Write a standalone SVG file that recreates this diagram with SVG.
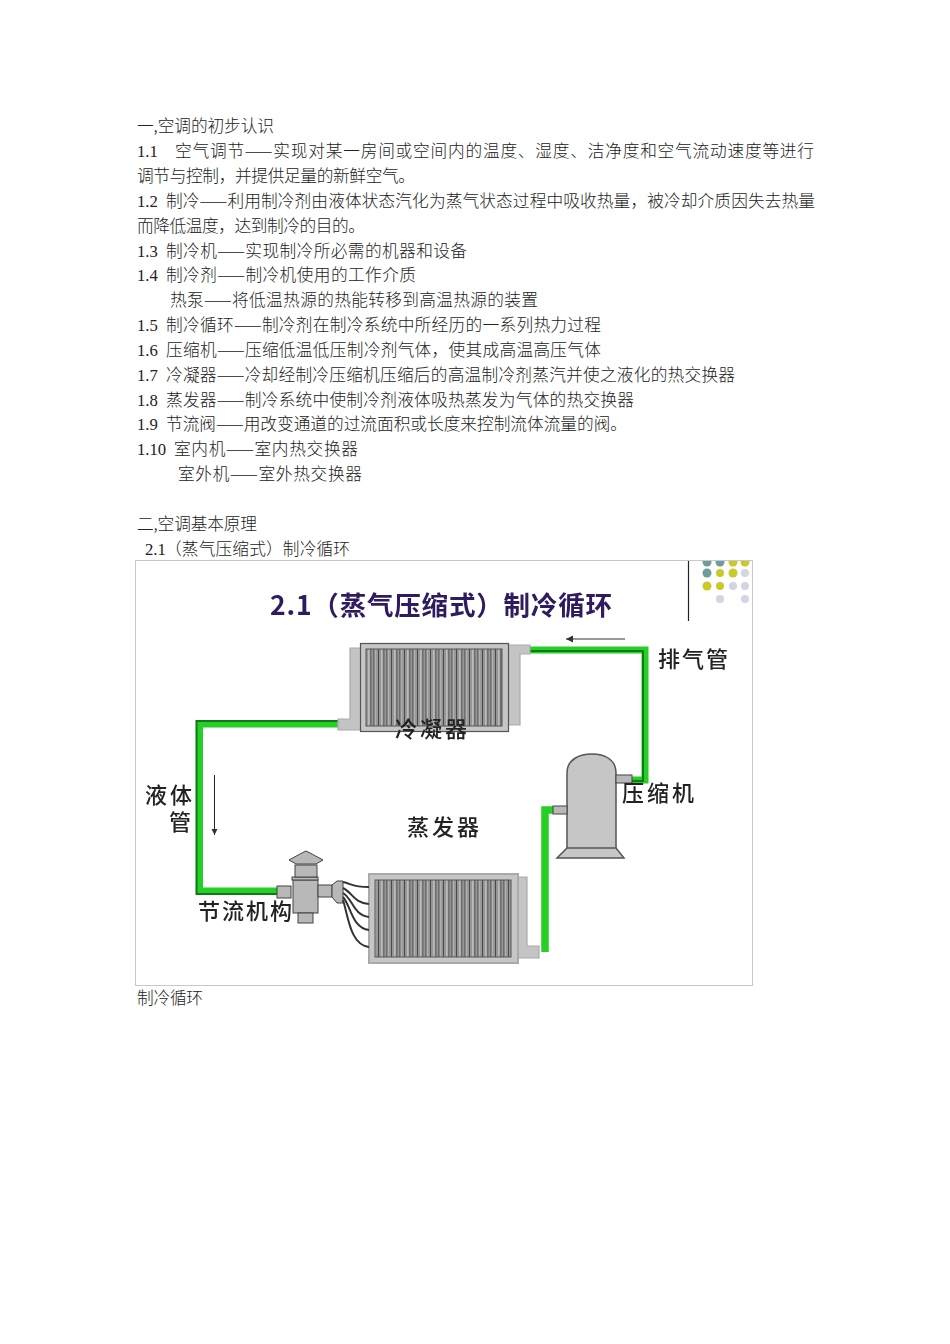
<svg xmlns="http://www.w3.org/2000/svg" width="950" height="1344" viewBox="0 0 950 1344">
<style>
.t{font-family:"Noto Sans CJK SC","Liberation Serif",serif;font-size:16.7px;fill:#222;font-weight:300}
.n{font-family:"Liberation Serif","Noto Sans CJK SC",serif}
.title{font-family:"Noto Sans CJK SC","Liberation Sans",sans-serif;font-size:26.500px;font-weight:700;fill:#2d1a5e}
.lab{font-family:"Noto Sans CJK SC","Liberation Serif",serif;font-size:22px;font-weight:500;fill:#222}
.box{fill:#c6c6c6;stroke:#555;stroke-width:1.2}
.soft{stroke:#aaa;fill:#c4c4c4}
.pipe{fill:none;stroke:#25cf25;stroke-width:7}
.edge{fill:none;stroke:#0b7a12;stroke-width:2}
.part{fill:#b8b8b8;stroke:#444;stroke-width:1}
.wire{fill:none;stroke:#333;stroke-width:2}
.fig{filter:url(#blur)}
</style>
<defs>
<filter id="blur" x="-5%" y="-5%" width="110%" height="110%"><feGaussianBlur stdDeviation="0.45"/></filter>
<clipPath id="dotclip"><rect x="690" y="561" width="62" height="60"/></clipPath>
<pattern id="fins" width="13" height="10" patternUnits="userSpaceOnUse">
<rect width="13" height="10" fill="#969696"/>
<rect x="1" width="1" height="10" fill="#4a4a4a"/>
<rect x="4" width="1.6" height="10" fill="#bbb"/>
<rect x="6.500" width="0.8" height="10" fill="#4a4a4a"/>
<rect x="9" width="1.400" height="10" fill="#6e6e6e"/>
<rect x="11" width="1.200" height="10" fill="#b0b0b0"/>
</pattern>
<marker id="arr" markerWidth="8" markerHeight="8" refX="6" refY="3" orient="auto"><path d="M0,0L6,3L0,6z" fill="#333"/></marker>
</defs>
<rect width="950" height="1344" fill="#fff"/>
<g id="text-body" class="t">
<text x="137" y="132" textLength="137">一,空调的初步认识</text>
<text class="n" x="137" y="157">1.1</text><text x="175" y="157" textLength="639">空气调节——实现对某一房间或空间内的温度、湿度、洁净度和空气流动速度等进行</text>
<text x="137" y="182" textLength="278">调节与控制，并提供足量的新鲜空气。</text>
<text class="n" x="137" y="207">1.2</text><text x="166" y="207" textLength="649">制冷——利用制冷剂由液体状态汽化为蒸气状态过程中吸收热量，被冷却介质因失去热量</text>
<text x="137" y="232" textLength="228">而降低温度，达到制冷的目的。</text>
<text class="n" x="137" y="257">1.3</text><text x="166" y="257" textLength="301">制冷机——实现制冷所必需的机器和设备</text>
<text class="n" x="137" y="281">1.4</text><text x="166" y="281" textLength="250">制冷剂——制冷机使用的工作介质</text>
<text x="170" y="306" textLength="368">热泵——将低温热源的热能转移到高温热源的装置</text>
<text class="n" x="137" y="331">1.5</text><text x="166" y="331" textLength="435">制冷循环——制冷剂在制冷系统中所经历的一系列热力过程</text>
<text class="n" x="137" y="356">1.6</text><text x="166" y="356" textLength="435">压缩机——压缩低温低压制冷剂气体，使其成高温高压气体</text>
<text class="n" x="137" y="381">1.7</text><text x="166" y="381" textLength="569">冷凝器——冷却经制冷压缩机压缩后的高温制冷剂蒸汽并使之液化的热交换器</text>
<text class="n" x="137" y="406">1.8</text><text x="166" y="406" textLength="468">蒸发器——制冷系统中使制冷剂液体吸热蒸发为气体的热交换器</text>
<text class="n" x="137" y="430">1.9</text><text x="166" y="430" textLength="461">节流阀——用改变通道的过流面积或长度来控制流体流量的阀。</text>
<text class="n" x="137" y="455">1.10</text><text x="174" y="455" textLength="184">室内机——室内热交换器</text>
<text x="178" y="480" textLength="184">室外机——室外热交换器</text>
<text x="137" y="530" textLength="120">二,空调基本原理</text>
<text class="n" x="145" y="555">2.1</text><text x="165" y="555" textLength="185">（蒸气压缩式）制冷循环</text>
<text x="137" y="1004" textLength="66">制冷循环</text>
</g>
<g id="figure-frame">
<rect x="135.500" y="560.500" width="617" height="425" fill="#fff" stroke="#c8c8c8"/>
<line x1="688.500" y1="561" x2="688.500" y2="621" stroke="#222" stroke-width="1.2"/>
<g clip-path="url(#dotclip)">
<g fill="#6f9c9c"><circle cx="707" cy="562" r="4.500"/><circle cx="720" cy="562" r="4.500"/><circle cx="707" cy="573" r="4.500"/></g>
<g fill="#c9c92a"><circle cx="733" cy="562" r="4.500"/><circle cx="745" cy="562" r="4.500"/><circle cx="720" cy="573" r="4"/><circle cx="733" cy="573" r="4.500"/><circle cx="707" cy="586" r="4.500"/><circle cx="720" cy="586" r="4"/></g>
<g fill="#d5d5e2"><circle cx="745" cy="573" r="4"/><circle cx="733" cy="586" r="4"/><circle cx="745" cy="586" r="4"/><circle cx="720" cy="599" r="4"/><circle cx="745" cy="599" r="4"/></g>
</g>
<text class="title fig" x="270" y="615" textLength="342">2.1（蒸气压缩式）制冷循环</text>
</g>
<g id="connectors" class="fig">
<path class="pipe" d="M338,724H199.500V891H278"/>
<path class="edge" d="M338,721H196.500V894H278"/>
<path class="pipe" d="M530,650H645V780H632"/>
<path class="edge" d="M530,651H643V781H632"/>
<path class="pipe" style="stroke-width:7.500" d="M545,952V810H553"/>
<line x1="625" y1="639" x2="566" y2="639" stroke="#333" stroke-width="1.2" marker-end="url(#arr)"/>
<line x1="214.500" y1="775" x2="214.500" y2="835" stroke="#222" stroke-width="1" marker-end="url(#arr)"/>
</g>
<g id="condenser" class="fig">
<path class="box soft" d="M350,648H362V730H338V719H350z"/>
<path class="box soft" d="M508,645H530V654H520V725H508z"/>
<rect class="box" x="360.500" y="643.500" width="148" height="88"/>
<rect x="366" y="649" width="136" height="77" fill="url(#fins)" stroke="#555"/>
<text class="lab" x="395" y="737" textLength="72">冷凝器</text>
</g>
<g id="evaporator" class="fig">
<path class="box soft" d="M517,877H527V946H539V958H517z"/>
<rect class="box" x="369" y="874" width="149" height="89" style="stroke:#aaa;stroke-width:2"/>
<rect x="375" y="880" width="136" height="77" fill="url(#fins)" stroke="#555"/>
<text class="lab" x="407" y="835" textLength="72">蒸发器</text>
</g>
<g id="compressor" class="fig">
<path class="box" style="stroke-width:1.500" d="M567,849V773C567,759 580,754 592,754C604,754 616,759 616,773V849z"/>
<path class="box" style="stroke-width:1.500" d="M567,848H616L624,858H557z"/>
<rect class="part" x="616" y="775" width="16" height="8"/>
<rect class="part" x="553" y="806" width="14" height="8"/>
<text class="lab" x="622" y="801" textLength="72">压缩机</text>
</g>
<g id="expansion-valve" class="fig">
<rect class="part" x="277" y="886" width="14" height="12"/>
<rect class="part" x="293" y="880" width="25" height="33"/>
<rect class="part" x="292" y="877" width="26" height="3"/>
<rect class="part" x="298" y="913" width="15" height="10"/>
<rect class="part" x="295" y="865" width="22" height="12"/>
<path class="part" d="M289,860L300,854L306,851L312,854L323,860L316,864H296z"/>
<rect class="part" x="318" y="885" width="14" height="12"/>
<path class="part" d="M332,885L337,881H343V903H337L332,897z"/>
<path class="wire" d="M343,882C352,884 352,887 369,887"/>
<path class="wire" d="M343,888C353,893 354,903 369,904"/>
<path class="wire" d="M343,893C353,899 353,915 369,917"/>
<path class="wire" d="M343,897C351,906 352,928 369,930"/>
<path class="wire" d="M343,900C348,915 350,945 369,947"/>
<text class="lab" x="198" y="919" textLength="94">节流机构</text>
</g>
<g id="labels" class="fig">
<text class="lab" x="658" y="667" textLength="70">排气管</text>
<text class="lab" x="145" y="803" textLength="47">液体</text>
<text class="lab" x="169" y="830" textLength="23">管</text>
</g>
</svg>
